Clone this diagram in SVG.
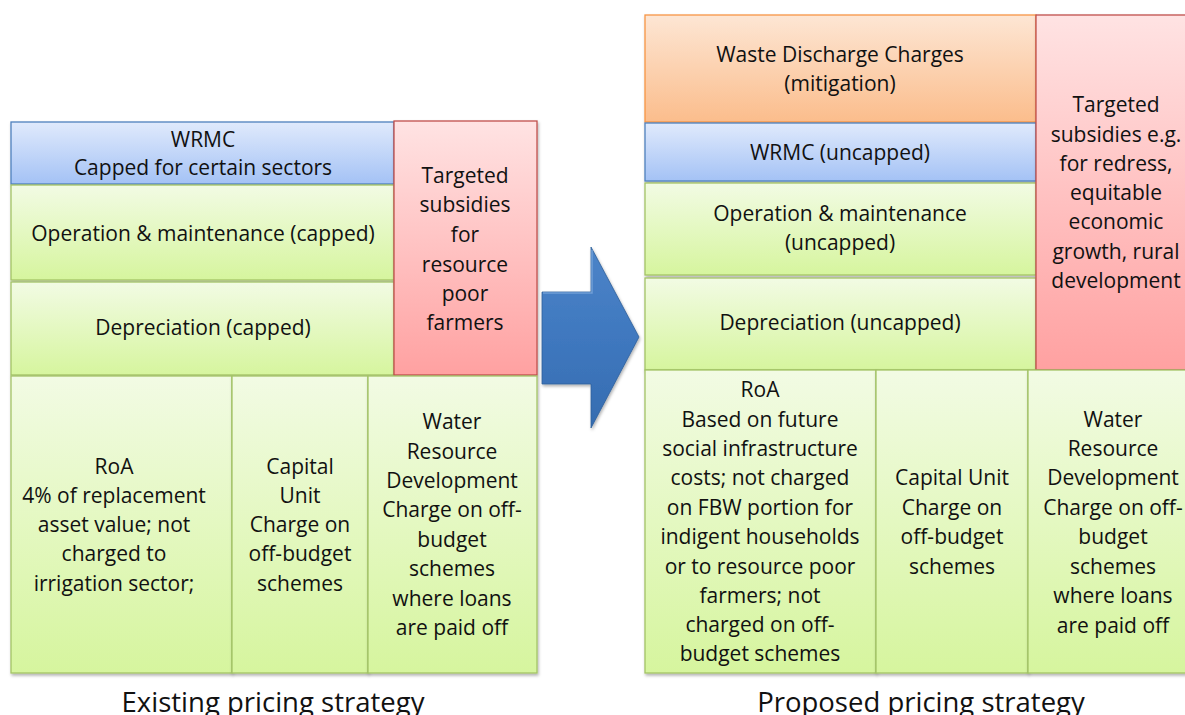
<svg xmlns="http://www.w3.org/2000/svg" width="1185" height="715" viewBox="0 0 1185 715">
  <defs>
    <linearGradient id="gGreen" x1="0" y1="0" x2="0" y2="1">
      <stop offset="0" stop-color="#f2fbe4"/>
      <stop offset="1" stop-color="#d6f59e"/>
    </linearGradient>
    <linearGradient id="gBlue" x1="0" y1="0" x2="0" y2="1">
      <stop offset="0" stop-color="#e0eafc"/>
      <stop offset="1" stop-color="#a4c2f5"/>
    </linearGradient>
    <linearGradient id="gOrange" x1="0" y1="0" x2="0" y2="1">
      <stop offset="0" stop-color="#fde6d4"/>
      <stop offset="1" stop-color="#fbbd8c"/>
    </linearGradient>
    <linearGradient id="gRed" x1="0" y1="0" x2="0" y2="1">
      <stop offset="0" stop-color="#ffe3e3"/>
      <stop offset="1" stop-color="#ffa1a1"/>
    </linearGradient>
    <linearGradient id="gArrow" x1="0" y1="0" x2="0" y2="1">
      <stop offset="0" stop-color="#4c84c8"/>
      <stop offset="0.5" stop-color="#3f78bf"/>
      <stop offset="1" stop-color="#356cb0"/>
    </linearGradient>
    <filter id="shadow" x="-5%" y="-5%" width="110%" height="115%">
      <feDropShadow dx="1" dy="2" stdDeviation="1.5" flood-color="#000" flood-opacity="0.3"/>
    </filter>
  </defs>
  <style>
    .box { filter: url(#shadow); stroke-width: 1.3; }
    .green { fill: url(#gGreen); stroke: #a3c366; }
    .blue { fill: url(#gBlue); stroke: #4f81bd; }
    .orange { fill: url(#gOrange); stroke: #f79646; }
    .red { fill: url(#gRed); stroke: #c0504d; }
    text { font-family: "Open Sans", "Liberation Sans", Arial, sans-serif; font-size: 21px; fill: #111; text-anchor: middle; dominant-baseline: central; }
    .cap { font-size: 27.5px; dominant-baseline: auto; }
  </style>

  <rect width="1185" height="715" fill="#ffffff"/>

  <!-- Existing pricing strategy -->
  <g id="existing">
    <g id="e-wrmc">
      <rect class="box blue" x="11" y="122" width="383" height="62"/>
      <text x="203" y="139">WRMC</text>
      <text x="203" y="167">Capped for certain sectors</text>
    </g>
    <g id="e-om">
      <rect class="box green" x="11" y="185" width="383" height="95"/>
      <text x="203" y="233">Operation &amp; maintenance (capped)</text>
    </g>
    <g id="e-dep">
      <rect class="box green" x="11" y="282" width="383" height="93"/>
      <text x="203" y="327">Depreciation (capped)</text>
    </g>
    <g id="e-subsidy">
      <rect class="box red" x="394" y="121" width="143" height="254"/>
      <text x="465" y="175">Targeted</text>
      <text x="465" y="204">subsidies</text>
      <text x="465" y="234">for</text>
      <text x="465" y="264">resource</text>
      <text x="465" y="293">poor</text>
      <text x="465" y="322">farmers</text>
    </g>
    <g id="e-roa">
      <rect class="box green" x="11" y="376" width="221" height="297"/>
      <text x="114" y="466">RoA</text>
      <text x="114" y="495">4% of replacement</text>
      <text x="114" y="524">asset value; not</text>
      <text x="114" y="553">charged to</text>
      <text x="114" y="583">irrigation sector;</text>
    </g>
    <g id="e-cuc">
      <rect class="box green" x="232" y="376" width="136" height="297"/>
      <text x="300" y="466">Capital</text>
      <text x="300" y="495">Unit</text>
      <text x="300" y="524">Charge on</text>
      <text x="300" y="553">off-budget</text>
      <text x="300" y="583">schemes</text>
    </g>
    <g id="e-wrdc">
      <rect class="box green" x="368" y="376" width="169" height="297"/>
      <text x="452" y="421">Water</text>
      <text x="452" y="451">Resource</text>
      <text x="452" y="480">Development</text>
      <text x="452" y="509">Charge on off-</text>
      <text x="452" y="539">budget</text>
      <text x="452" y="568">schemes</text>
      <text x="452" y="598">where loans</text>
      <text x="452" y="627">are paid off</text>
    </g>
    <text class="cap" x="273" y="712">Existing pricing strategy</text>
  </g>

  <!-- Transition arrow -->
  <g id="transition">
    <path d="M542,292 H591 V247 L639,337 L591,428 V384 H542 Z" fill="url(#gArrow)" stroke="#2f6099" stroke-width="0.8" filter="url(#shadow)"/>
    <path d="M543,293 H592 V250" fill="none" stroke="#7aa6dc" stroke-width="1.5" opacity="0.8"/>
  </g>

  <!-- Proposed pricing strategy -->
  <g id="proposed">
    <g id="p-wdc">
      <rect class="box orange" x="645" y="15" width="391" height="107"/>
      <text x="840" y="54">Waste Discharge Charges</text>
      <text x="840" y="83">(mitigation)</text>
    </g>
    <g id="p-wrmc">
      <rect class="box blue" x="645" y="123" width="391" height="58"/>
      <text x="840" y="152">WRMC (uncapped)</text>
    </g>
    <g id="p-om">
      <rect class="box green" x="645" y="183" width="391" height="92"/>
      <text x="840" y="213">Operation &amp; maintenance</text>
      <text x="840" y="242">(uncapped)</text>
    </g>
    <g id="p-dep">
      <rect class="box green" x="645" y="278" width="391" height="92"/>
      <text x="840" y="322">Depreciation (uncapped)</text>
    </g>
    <g id="p-subsidy">
      <rect class="box red" x="1036" y="15" width="160" height="355"/>
      <text x="1116" y="104">Targeted</text>
      <text x="1116" y="134">subsidies e.g.</text>
      <text x="1116" y="163">for redress,</text>
      <text x="1116" y="192">equitable</text>
      <text x="1116" y="221">economic</text>
      <text x="1116" y="251">growth, rural</text>
      <text x="1116" y="280">development</text>
    </g>
    <g id="p-roa">
      <rect class="box green" x="645" y="370" width="231" height="303"/>
      <text x="760" y="389">RoA</text>
      <text x="760" y="419">Based on future</text>
      <text x="760" y="448">social infrastructure</text>
      <text x="760" y="477">costs; not charged</text>
      <text x="760" y="507">on FBW portion for</text>
      <text x="760" y="536">indigent households</text>
      <text x="760" y="566">or to resource poor</text>
      <text x="760" y="595">farmers; not</text>
      <text x="760" y="624">charged on off-</text>
      <text x="760" y="653">budget schemes</text>
    </g>
    <g id="p-cuc">
      <rect class="box green" x="876" y="370" width="152" height="303"/>
      <text x="952" y="477">Capital Unit</text>
      <text x="952" y="507">Charge on</text>
      <text x="952" y="536">off-budget</text>
      <text x="952" y="566">schemes</text>
    </g>
    <g id="p-wrdc">
      <rect class="box green" x="1028" y="370" width="168" height="303"/>
      <text x="1113" y="419">Water</text>
      <text x="1113" y="448">Resource</text>
      <text x="1113" y="477">Development</text>
      <text x="1113" y="507">Charge on off-</text>
      <text x="1113" y="536">budget</text>
      <text x="1113" y="566">schemes</text>
      <text x="1113" y="595">where loans</text>
      <text x="1113" y="625">are paid off</text>
    </g>
    <text class="cap" x="921" y="712">Proposed pricing strategy</text>
  </g>
</svg>
